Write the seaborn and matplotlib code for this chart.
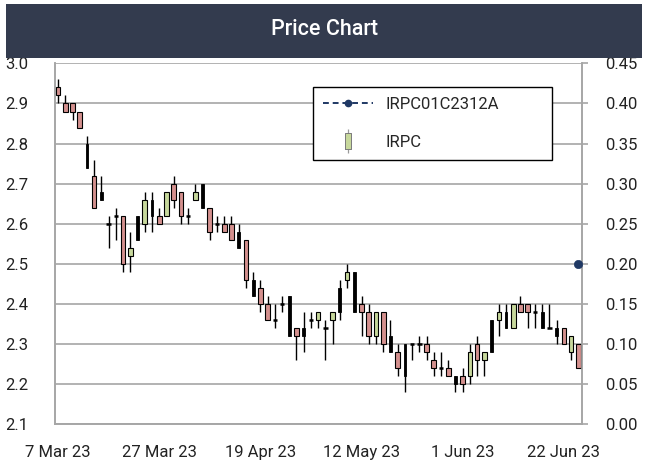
import pandas as pd
import numpy as np
import matplotlib
matplotlib.use("Agg")
import matplotlib.pyplot as plt
import seaborn as sns
from matplotlib.lines import Line2D
from matplotlib.patches import Rectangle
from matplotlib.legend_handler import HandlerTuple

# trading days (SET), holidays removed
start_day = "2023-03-07"
end_day = "2023-06-26"
holidays = ["2023-04-06", "2023-04-13", "2023-04-14", "2023-05-01",
            "2023-05-04", "2023-05-05", "2023-06-05"]

opens = [2.94, 2.90, 2.90, 2.88, 2.80, 2.72, 2.68, 2.60, 2.62, 2.62,
         2.52, 2.62, 2.60, 2.66, 2.62, 2.62, 2.70, 2.68, 2.62, 2.66,
         2.70, 2.64, 2.60, 2.60, 2.60, 2.58, 2.56, 2.46, 2.44, 2.40,
         2.36, 2.40, 2.42, 2.34, 2.34, 2.36, 2.36, 2.34, 2.36, 2.44,
         2.46, 2.48, 2.40, 2.38, 2.32, 2.38, 2.32, 2.28, 2.30, 2.30,
         2.30, 2.30, 2.26, 2.24, 2.24, 2.22, 2.22, 2.22, 2.30, 2.26,
         2.36, 2.36, 2.38, 2.34, 2.40, 2.40, 2.38, 2.38, 2.34, 2.34,
         2.34, 2.28, 2.30]
highs = [2.96, 2.92, 2.90, 2.88, 2.82, 2.76, 2.72, 2.62, 2.64, 2.62,
         2.58, 2.62, 2.68, 2.68, 2.64, 2.68, 2.72, 2.68, 2.64, 2.70,
         2.70, 2.64, 2.62, 2.62, 2.62, 2.60, 2.56, 2.48, 2.46, 2.42,
         2.40, 2.42, 2.42, 2.34, 2.38, 2.38, 2.38, 2.36, 2.38, 2.46,
         2.50, 2.48, 2.42, 2.40, 2.38, 2.38, 2.36, 2.30, 2.30, 2.30,
         2.32, 2.32, 2.28, 2.28, 2.26, 2.22, 2.24, 2.30, 2.32, 2.28,
         2.36, 2.40, 2.40, 2.40, 2.42, 2.40, 2.40, 2.40, 2.40, 2.36,
         2.34, 2.32, 2.30]
lows = [2.90, 2.88, 2.86, 2.84, 2.74, 2.64, 2.66, 2.54, 2.56, 2.48,
        2.48, 2.56, 2.58, 2.58, 2.60, 2.62, 2.64, 2.60, 2.60, 2.66,
        2.64, 2.56, 2.58, 2.58, 2.56, 2.54, 2.44, 2.42, 2.38, 2.36,
        2.34, 2.38, 2.32, 2.26, 2.28, 2.34, 2.34, 2.26, 2.30, 2.36,
        2.44, 2.38, 2.32, 2.30, 2.30, 2.28, 2.28, 2.22, 2.18, 2.26,
        2.28, 2.26, 2.22, 2.22, 2.22, 2.18, 2.18, 2.20, 2.22, 2.22,
        2.28, 2.32, 2.34, 2.34, 2.38, 2.34, 2.34, 2.34, 2.34, 2.30,
        2.30, 2.26, 2.24]
closes = [2.92, 2.88, 2.88, 2.84, 2.74, 2.64, 2.66, 2.60, 2.62, 2.50,
          2.54, 2.56, 2.66, 2.62, 2.60, 2.68, 2.66, 2.62, 2.62, 2.68,
          2.64, 2.58, 2.60, 2.58, 2.56, 2.54, 2.46, 2.42, 2.40, 2.36,
          2.36, 2.40, 2.32, 2.32, 2.32, 2.36, 2.38, 2.34, 2.38, 2.38,
          2.48, 2.38, 2.38, 2.32, 2.38, 2.30, 2.28, 2.24, 2.22, 2.30,
          2.30, 2.28, 2.24, 2.24, 2.22, 2.20, 2.20, 2.28, 2.26, 2.28,
          2.28, 2.38, 2.34, 2.40, 2.38, 2.38, 2.38, 2.34, 2.34, 2.32,
          2.30, 2.32, 2.24]
# r = down (pink), g = up (green), k = black bar, d = doji tick
kinds = list("rrrrkrkddrgkgkrgrrdgkrdrrkrkrrddkrkdgdgkgkrrgrkrkddrrdrkrgrgkgkgrrdkdkrgr")

warrant_dates = ["2023-06-26"]
warrant_price = [0.20]

left_ticks = [2.1, 2.2, 2.3, 2.4, 2.5, 2.6, 2.7, 2.8, 2.9, 3.0]
right_ticks = [0.00, 0.05, 0.10, 0.15, 0.20, 0.25, 0.30, 0.35, 0.40, 0.45]
label_every = 14

dates = pd.bdate_range(start_day, end_day, freq="C", holidays=holidays)
df = pd.DataFrame({"date": dates, "open": opens, "high": highs,
                   "low": lows, "close": closes, "kind": kinds})
df["pos"] = np.arange(len(df))

sns.set_style("white")
plt.rcParams["font.family"] = ["Roboto", "DejaVu Sans"]

pink = "#d4908e"
green = "#c7d89c"
navy = "#1f3864"
grey = "#a6a6a6"

fig = plt.figure(figsize=(6.45, 4.61), dpi=100)
fig.patches.append(Rectangle((0.009, 0.874), 0.986, 0.117, transform=fig.transFigure,
                             facecolor="#333b4e", edgecolor="none", zorder=0))
fig.text(0.503, 0.935, "Price Chart", color="white", fontsize=15.5,
         ha="center", va="center", fontweight="medium")

ax = fig.add_axes([0.0853, 0.0796, 0.817, 0.7829])
ax.set_ylim(2.1, 3.0)
ax.set_xlim(-0.42, 72.51)
ax.set_yticks(left_ticks)
ax.set_yticklabels([f"{v:.1f}" for v in left_ticks])
ax.grid(axis="y", color=grey, lw=1.2)
ax.set_axisbelow(True)

# wicks
ax.vlines(df["pos"], df["low"], df["high"], color="black", lw=1.0, zorder=2)
# bodies
colors = {"r": pink, "g": green}
for k in ["r", "g"]:
    sub = df[df["kind"] == k]
    lo = sub[["open", "close"]].min(axis=1)
    hi = sub[["open", "close"]].max(axis=1)
    ax.bar(sub["pos"], hi - lo, bottom=lo, width=0.64, color=colors[k],
           edgecolor="black", lw=0.8, zorder=3)
sub = df[df["kind"] == "k"]
lo = sub[["open", "close"]].min(axis=1)
hi = sub[["open", "close"]].max(axis=1)
ax.bar(sub["pos"], hi - lo, bottom=lo, width=0.38, color="black",
       edgecolor="black", lw=0.6, zorder=3)
sub = df[df["kind"] == "d"]
ax.hlines(sub["close"], sub["pos"] - 0.31, sub["pos"] + 0.31, color="black",
          lw=1.8, zorder=3)

tick_pos = df["pos"][::label_every]
ax.set_xticks(tick_pos)
ax.set_xticklabels([f"{d.day} {d:%b %y}" for d in df["date"][::label_every]])
ax.tick_params(axis="x", length=0, pad=15, labelsize=12, colors="#222222")
ax.tick_params(axis="y", length=0, pad=19, labelsize=12, colors="#222222")
for s in ["left", "right", "bottom"]:
    ax.spines[s].set_color(grey)
    ax.spines[s].set_linewidth(1.2)
ax.spines["top"].set_visible(False)

ax2 = ax.twinx()
ax2.set_ylim(0, 0.45)
ax2.set_yticks(right_ticks)
ax2.set_yticklabels([f"{v:.2f}" for v in right_ticks])
ax2.tick_params(axis="y", length=4, width=1.2, color=grey, pad=13,
                labelsize=12, colors="#222222")
ax2.tick_params(axis="y", color=grey)
for s in ["left", "right", "bottom"]:
    ax2.spines[s].set_color(grey)
    ax2.spines[s].set_linewidth(1.2)
ax2.spines["top"].set_visible(False)

wpos = [df.index[df["date"] == pd.Timestamp(d)][0] for d in warrant_dates]
wdf = pd.DataFrame({"pos": wpos, "price": warrant_price})
sns.scatterplot(data=wdf, x="pos", y="price", ax=ax2, color=navy, s=36,
                edgecolor=navy, zorder=5, legend=False)
ax2.set_xlabel("")
ax2.set_ylabel("")
ax.set_xlim(-0.42, 72.51)

line_handle = Line2D([], [], color=navy, lw=1.4, ls=(0, (3, 2)), marker="o",
                     markersize=4.5)
rect = [(-1, -2.4), (1, -2.4), (1, 2.4), (-1, 2.4), (-1, -2.4)]
stick = Line2D([], [], color="#9a9a9a", marker="|", markersize=17, ls="None",
               markeredgewidth=0.9)
body = Line2D([], [], marker=rect, markersize=11, ls="None",
              markerfacecolor=green, markeredgecolor="#7a7a7a", markeredgewidth=0.7)
leg = ax2.legend([line_handle, (stick, body)], ["IRPC01C2312A", "IRPC"],
                 handler_map={tuple: HandlerTuple(ndivide=1)},
                 loc="upper left", bbox_to_anchor=(0.49, 0.732, 0.453, 0.203),
                 mode="expand", fontsize=12, frameon=True, fancybox=False,
                 framealpha=1, edgecolor="black", handlelength=3.0,
                 handletextpad=0.75, labelspacing=1.4, borderpad=0.6,
                 borderaxespad=0)
leg.get_frame().set_linewidth(1.0)

fig.savefig("out.png", dpi=100)
